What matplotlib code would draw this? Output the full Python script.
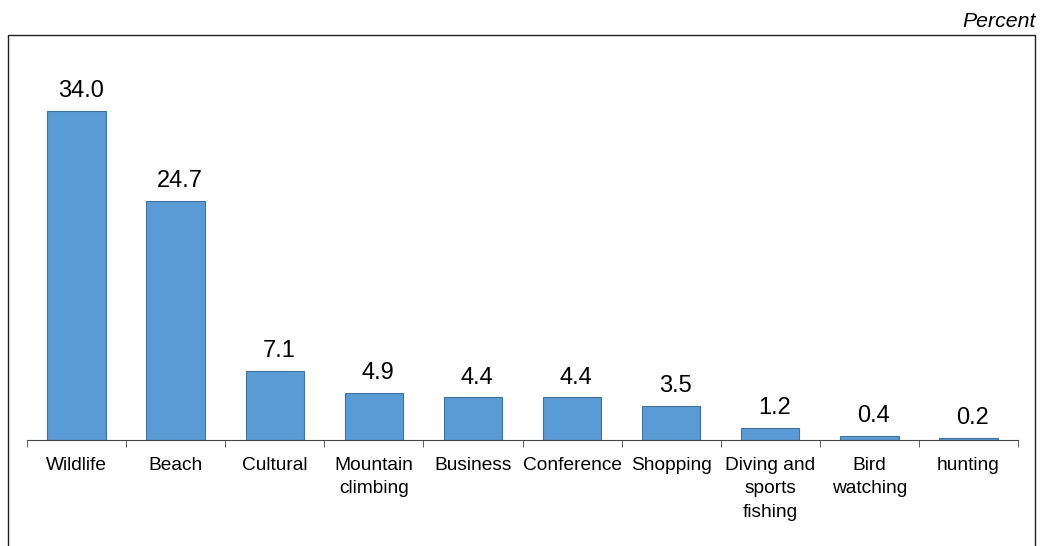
import matplotlib.pyplot as plt
from matplotlib import font_manager
from matplotlib.patches import Rectangle

# Туристические цели, в процентах
categories = ['Wildlife', 'Beach', 'Cultural', 'Mountain\nclimbing', 'Business',
              'Conference', 'Shopping', 'Diving and\nsports\nfishing', 'Bird\nwatching', 'hunting']
values = [34.0, 24.7, 7.1, 4.9, 4.4, 4.4, 3.5, 1.2, 0.4, 0.2]

plt.rcParams['font.family'] = ['Liberation Sans', 'DejaVu Sans']


def has_font(name):
    try:
        font_manager.findfont(font_manager.FontProperties(family=name), fallback_to_default=False)
        return True
    except ValueError:
        return False


# Узкий шрифт для подписей категорий, если он есть
if has_font('Liberation Sans Narrow'):
    cat_family, cat_size, cat_spacing = ['Liberation Sans Narrow', 'DejaVu Sans'], 16.5, 1.35
else:
    cat_family, cat_size, cat_spacing = ['Liberation Sans', 'DejaVu Sans'], 13.8, 1.52

fig = plt.figure(figsize=(10.46, 5.46), dpi=100)

# Рамка вокруг графика (снизу открыта)
fig.patches.append(Rectangle((8 / 1046, -0.05), (1035 - 8) / 1046, (546 - 35) / 546 + 0.05,
                             transform=fig.transFigure, fill=False,
                             edgecolor='#222222', linewidth=1.0))
fig.text(1036 / 1046, 1 - 26.7 / 546, 'Percent', ha='right', va='baseline',
         fontsize=15.3, style='italic')

ax = fig.add_axes([27 / 1046, 106 / 546, (1018 - 27) / 1046, (440 - 35) / 546])
x = range(len(values))
bars = ax.bar(x, values, width=0.59, color='#5B9BD5', edgecolor='#41719C', linewidth=0.8)

for b, v in zip(bars, values):
    ax.annotate(f'{v:.1f}', (b.get_x() + b.get_width() / 2, v), xytext=(3, 10),
                textcoords='offset points', ha='center', va='baseline', fontsize=17)

ax.set_xlim(-0.5, len(values) - 0.5)
ax.set_ylim(0, 405 / 9.68)
ax.set_xticks(list(x))
ax.set_xticklabels(categories, fontsize=cat_size, linespacing=cat_spacing, va='top',
                   family=cat_family)
ax.set_xticks([i - 0.5 for i in range(len(values) + 1)], minor=True)
ax.tick_params(axis='x', which='major', length=0, pad=12)
ax.tick_params(axis='x', which='minor', length=5, direction='out', color='#444444')
ax.set_yticks([])
for s in ['top', 'left', 'right']:
    ax.spines[s].set_visible(False)
ax.spines['bottom'].set_color('#444444')
ax.patch.set_alpha(0)

fig.savefig('out.png', dpi=100)
